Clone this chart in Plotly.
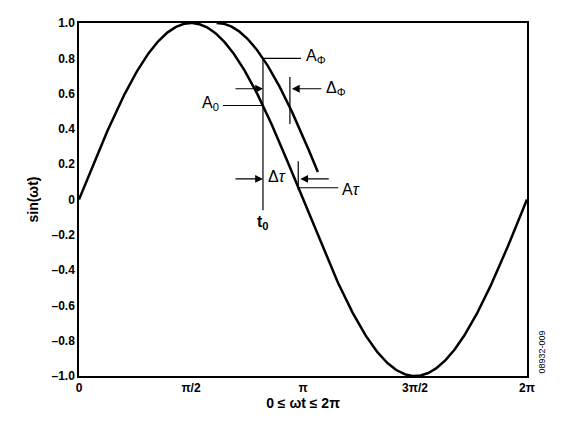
import numpy as np
import plotly.graph_objects as go

# reference sine and its phase-shifted copy
x_ref = np.linspace(0, 2 * np.pi, 400)
y_ref = np.sin(x_ref)
phi = 0.365
x_shift = np.linspace(1.93, 3.35, 120)
y_shift = np.sin(x_shift - phi)

t0 = 2.58
x_dphi = 2.958
x_dtau = 3.075

x_ticks = [0, np.pi / 2, np.pi, 3 * np.pi / 2, 2 * np.pi]
x_labels = ["0", "π/2", "π", "3π/2", "2π"]
y_ticks = [1.0, 0.8, 0.6, 0.4, 0.2, 0, -0.2, -0.4, -0.6, -0.8, -1.0]
y_labels = ["1.0", "0.8", "0.6", "0.4", "0.2", "0", "–0.2", "–0.4", "–0.6", "–0.8", "–1.0"]

line = dict(color="black", width=2.5)
thin = dict(color="black", width=1.2)

fig = go.Figure()
fig.add_trace(go.Scatter(x=x_ref, y=y_ref, mode="lines", line=line))
fig.add_trace(go.Scatter(x=x_shift, y=y_shift, mode="lines", line=line))

a0 = np.sin(t0)
aphi = np.sin(t0 - phi)
atau = np.sin(x_dtau)
px = 2 * np.pi / 448  # data units per pixel on x
py = 2 / 360

shapes = [
    dict(type="line", x0=t0, x1=t0, y0=aphi, y1=aphi - 155 * py, line=thin),
    dict(type="line", x0=t0, x1=t0 + 38 * px, y0=aphi, y1=aphi, line=thin),
    dict(type="line", x0=t0 - 40 * px, x1=t0, y0=a0, y1=a0, line=thin),
    dict(type="line", x0=x_dphi, x1=x_dphi, y0=aphi - 19 * py, y1=aphi - 67 * py, line=thin),
    dict(type="line", x0=x_dtau, x1=x_dtau, y0=atau + 27 * py, y1=atau - 2 * py, line=thin),
    dict(type="line", x0=x_dtau, x1=x_dtau + 40 * px, y0=atau, y1=atau, line=thin),
]

font = dict(family="Arial, Liberation Sans", size=16, color="black")
ann = []
y_dphi_arrow = aphi - 31 * py
y_dtau_arrow = atau + 9 * py
for xh, ax, ya in [(t0, -29, y_dphi_arrow), (x_dphi + 2 * px, 31, y_dphi_arrow),
                   (t0, -29, y_dtau_arrow), (x_dtau + 2 * px, 30, y_dtau_arrow)]:
    ann.append(dict(x=xh, y=ya, ax=ax, ay=0, text="", showarrow=True, arrowhead=2,
                    arrowsize=1.3, arrowwidth=1.2, arrowcolor="black"))
labels = [
    (t0 + 41 * px, aphi + 2 * py, "A<sub>Φ</sub>", "left"),
    (t0 - 42 * px, a0 + 2 * py, "A<sub>0</sub>", "right"),
    (x_dphi + 34 * px, y_dphi_arrow, "Δ<sub>Φ</sub>", "left"),
    (t0 + 3 * px, y_dtau_arrow + 2 * py, "Δ<i>τ</i>", "left"),
    (x_dtau + 42 * px, atau - 2 * py, "A<i>τ</i>", "left"),
    (t0, aphi - 167 * py, "<b>t<sub>0</sub></b>", "center"),
]
for xl, yl, t, al in labels:
    ann.append(dict(x=xl, y=yl, text=t, showarrow=False, xanchor=al, font=font))
ann.append(dict(x=1.047, y=0.0, xref="paper", yref="paper", text="08932-009", textangle=-90,
                showarrow=False, yanchor="bottom", font=dict(family="Arial", size=9, color="black")))

fig.update_layout(
    width=564, height=428, margin=dict(l=71, r=45, t=8, b=60),
    plot_bgcolor="white", paper_bgcolor="white", showlegend=False,
    shapes=shapes, annotations=ann,
    font=dict(family="Arial, Liberation Sans", size=12, color="black"),
)
fig.update_xaxes(range=[0, 2 * np.pi], tickvals=x_ticks, ticktext=[f"<b>{t}</b>" for t in x_labels],
                 showline=True, mirror=True, linecolor="black", linewidth=1.5, showgrid=False,
                 zeroline=False, ticks="", title=dict(text="<b>0 ≤ ωt ≤ 2π</b>", standoff=4))
fig.update_yaxes(range=[-1, 1], tickvals=y_ticks, ticktext=[f"<b>{t}</b>" for t in y_labels],
                 showline=True, mirror=True, linecolor="black", linewidth=1.5, showgrid=False,
                 zeroline=False, ticks="", title=dict(text="<b>sin(ωt)</b>", standoff=10))

fig.write_html("out.html")
